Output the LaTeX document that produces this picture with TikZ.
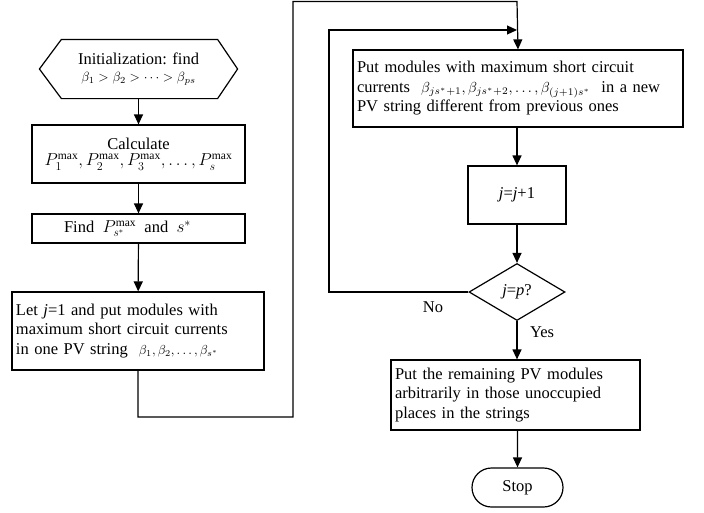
\documentclass[tikz,border=0pt]{standalone}
\usepackage{graphicx}
\usepackage{fontspec}
\setmainfont{Liberation Serif}
\usetikzlibrary{arrows.meta,shapes.geometric,shapes.misc}
\tikzset{
  box/.style={draw, line width=1.2pt, inner sep=3pt, align=center,
    font=\fontsize{16.5}{19.5}\selectfont},
  lbox/.style={box, align=left},
  conn/.style={line width=1.2pt, -{Triangle[length=10pt,width=9pt]}},
  line/.style={line width=1.2pt},
  lbl/.style={font=\fontsize{16.5}{19.5}\selectfont, inner sep=1pt}
}
\newcommand{\smath}[2]{{\normalsize\scalebox{#1}{$#2$}}}
\begin{document}
\begin{tikzpicture}[x=1pt,y=-1pt]
\useasboundingbox (0,0) rectangle (704,512);
% left column
\node[box, draw=none, minimum width=197pt, minimum height=58pt] (init) at (138.5,69)
  {Initialization: find\\[-2pt] \smath{1.33}{\beta_1>\beta_2>\cdots>\beta_{ps}}};
\draw[line] (init.west) -- ([xshift=22pt]init.north west) -- ([xshift=-20pt]init.north east)
  -- (init.east) -- ([xshift=-20pt]init.south east) -- ([xshift=22pt]init.south west) -- cycle;
\node[box, minimum width=213pt, minimum height=58pt] (calc) at (138.5,154)
  {Calculate\\[-3pt] $P_1^{\max},P_2^{\max},P_3^{\max},\dots,P_s^{\max}$};
\node[box, minimum width=213pt, minimum height=29pt] (find) at (138.5,228.5)
  {Find \ $P_{s^*}^{\max}$ \ and \ $s^*$\hspace*{22pt}};
\node[lbox, minimum width=252pt, minimum height=78pt, text width=244pt] (letj) at (138,331)
  {Let \textit{j}=1 and put modules with\\ maximum short circuit currents\\ in one PV string \ \smath{1.3}{\beta_1,\beta_2,\dots,\beta_{s^*}}};
% right column
\node[lbox, minimum width=330pt, minimum height=77pt, text width=322pt] (put) at (518,88.5)
  {Put modules with maximum short circuit\\ currents \ \smath{1.45}{\beta_{js^*+1},\beta_{js^*+2},\dots,\beta_{(j+1)s^*}} \ in a new\\ PV string different from previous ones};
\node[box, minimum width=98pt, minimum height=58pt] (jinc) at (517,195) {\textit{j}=\textit{j}+1};
\node[box, diamond, inner sep=0pt, minimum width=96pt, minimum height=57pt] (dec) at (517,292) {\textit{j}=\textit{p}?};
\node[lbox, minimum width=249pt, minimum height=70pt, text width=241pt] (rem) at (515.5,395)
  {Put the remaining PV modules\\ arbitrarily in those unoccupied\\ places in the strings};
\node[box, rounded rectangle, minimum width=97pt, minimum height=39pt] (stop) at (517.5,487.5) {Stop};
% connectors
\draw[conn] (init) -- (calc);
\draw[conn] (calc) -- (find);
\draw[conn] (find) -- (letj);
\coordinate (a1) at (138,417);
\coordinate (a2) at (293,417);
\coordinate (a3) at (293,1.5);
\coordinate (a4) at (517,1.5);
\draw[conn] (letj.south) -- (a1) -- (a2) -- (a3) -- (a4) -- (put.north);
\coordinate (b1) at (329,292);
\coordinate (b2) at (329,30);
\coordinate (b3) at (517,30);
\draw[conn] (dec.west) -- (b1) -- (b2) -- (b3);
\draw[conn] (put.south -| jinc) -- (jinc);
\draw[conn] (jinc) -- (dec);
\draw[conn] (dec.south) -- (dec.south |- rem.north);
\draw[conn] (rem.south -| stop) -- (stop);
\node[lbl] (no) at (433,307) {No};
\node[lbl] (yes) at (542,332) {Yes};
\end{tikzpicture}
\end{document}
